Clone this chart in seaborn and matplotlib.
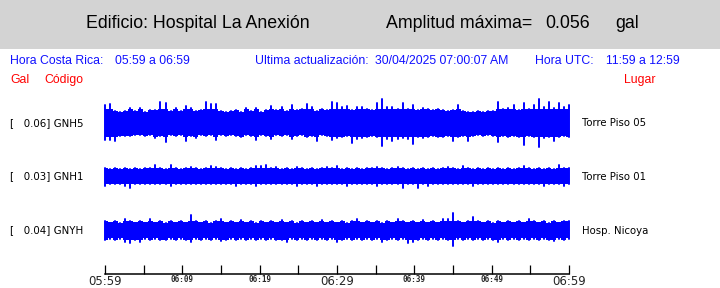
import numpy as np
import pandas as pd
import matplotlib
matplotlib.use("Agg")
import matplotlib.pyplot as plt
from matplotlib.patches import Rectangle
import seaborn as sns

# --- header values ---
building = "Hospital La Anexión"
max_amplitude = 0.056
local_range = "05:59 a 06:59"
utc_range = "11:59 a 12:59"
updated = "30/04/2025 07:00:07 AM"

# --- stations ---
codes = ["GNH5", "GNH1", "GNYH"]
places = ["Torre Piso 05", "Torre Piso 01", "Hosp. Nicoya"]
peaks = [0.06, 0.03, 0.04]
# level (mgal) up to which each trace looks solid
solid_level = [35, 20, 23]

# --- time axis ---
tick_minutes = list(range(0, 61, 5))
tick_labels = ["05:59", "", "06:09", "", "06:19", "", "06:29", "",
               "06:39", "", "06:49", "", "06:59"]
big_labels = ["05:59", "06:29", "06:59"]

# --- trace envelopes (mgal), read across the hour, up / down from the trace centre ---
gnh5_up = [45, 48, 30, 28, 30, 38, 30, 38, 28, 33,
           33, 53, 50, 30, 38, 30, 43, 38, 30, 33,
           53, 48, 48, 30, 28, 30, 33, 28, 38, 30,
           38, 28, 33, 43, 33, 40, 30, 45, 33, 35,
           48, 40, 30, 35, 33, 53, 50, 40, 43, 33,
           40, 40, 35, 33, 50, 60, 40, 40, 35, 50,
           35, 45, 33, 38, 35, 33, 35, 33, 30, 33,
           45, 30, 28, 28, 30, 28, 30, 30, 53, 35,
           38, 45, 33, 50, 35, 45, 60, 40, 53, 38,
           50, 40, 45]
gnh5_down = [43, 43, 45, 33, 33, 33, 30, 30, 33, 30,
             38, 33, 48, 30, 33, 30, 45, 33, 38, 30,
             33, 30, 43, 30, 33, 30, 33, 35, 30, 33,
             43, 30, 33, 40, 30, 33, 30, 40, 33, 30,
             35, 33, 45, 30, 33, 43, 38, 35, 33, 50,
             40, 38, 35, 33, 35, 58, 40, 45, 40, 38,
             40, 53, 35, 38, 35, 33, 35, 35, 33, 45,
             35, 33, 45, 33, 30, 33, 30, 33, 48, 33,
             35, 33, 35, 55, 33, 35, 60, 38, 35, 45,
             35, 33, 35]
gnh1_up = [20, 18, 20, 18, 20, 18, 20, 18, 20, 20,
           28, 20, 18, 28, 20, 18, 20, 23, 20, 18,
           20, 25, 23, 20, 18, 20, 18, 20, 18, 20,
           25, 25, 28, 20, 23, 18, 20, 18, 23, 20,
           18, 20, 18, 20, 23, 20, 25, 18, 20, 18,
           20, 18, 20, 20, 23, 20, 18, 20, 23, 20,
           18, 20, 18, 20, 18, 20, 18, 20, 23, 20,
           18, 25, 20, 18, 20, 18, 20, 18, 20, 18,
           20, 18, 20, 25, 20, 18, 20, 18, 20, 18,
           28, 20, 20]
gnh1_down = [23, 18, 20, 18, 23, 28, 20, 18, 20, 18,
             18, 20, 18, 25, 18, 20, 18, 20, 18, 18,
             20, 18, 20, 18, 18, 20, 23, 18, 20, 18,
             23, 18, 20, 18, 20, 18, 18, 20, 25, 18,
             20, 18, 23, 18, 20, 18, 20, 18, 23, 18,
             20, 18, 20, 18, 23, 18, 20, 18, 20, 28,
             18, 20, 30, 18, 23, 18, 20, 18, 18, 20,
             18, 20, 18, 23, 18, 20, 18, 20, 18, 20,
             18, 20, 18, 20, 18, 20, 18, 23, 18, 20,
             18, 23, 18]
gnyh_up = [23, 20, 23, 18, 30, 23, 20, 23, 20, 28,
           20, 23, 18, 23, 20, 23, 20, 38, 23, 20,
           23, 18, 23, 28, 20, 23, 20, 25, 20, 23,
           18, 23, 20, 23, 20, 25, 20, 23, 18, 23,
           20, 23, 20, 25, 20, 23, 20, 23, 18, 23,
           28, 20, 23, 20, 23, 18, 23, 20, 28, 23,
           20, 23, 20, 25, 20, 23, 20, 30, 28, 43,
           23, 20, 23, 33, 23, 20, 23, 18, 23, 20,
           23, 20, 23, 20, 28, 23, 20, 23, 18, 23,
           20, 23, 23]
gnyh_down = [23, 20, 23, 20, 28, 30, 23, 28, 20, 23,
             20, 23, 23, 20, 23, 20, 23, 28, 20, 23,
             20, 23, 20, 25, 23, 20, 23, 20, 23, 20,
             23, 20, 23, 20, 23, 23, 28, 20, 23, 20,
             23, 20, 23, 20, 23, 20, 28, 23, 20, 23,
             20, 23, 20, 23, 20, 28, 23, 20, 23, 20,
             30, 28, 23, 20, 23, 20, 23, 20, 23, 38,
             20, 23, 20, 23, 20, 23, 20, 23, 28, 20,
             23, 20, 23, 20, 23, 20, 23, 20, 23, 25,
             20, 23, 20]

envelopes = [(gnh5_up, gnh5_down), (gnh1_up, gnh1_down), (gnyh_up, gnyh_down)]

# --- layout (pixels on a 720x288 canvas) ---
W, H = 720, 288
PX_PER_GAL = 400.0
AX_LEFT, AX_RIGHT, AX_BOTTOM, AX_TOP = 105, 569, 274, 96
track_px = [123, 176.5, 230.5]
track_y = [(AX_BOTTOM - p) / PX_PER_GAL for p in track_px]

sns.set_style("white")
plt.rcParams["font.family"] = ["DejaVu Sans"]

fig = plt.figure(figsize=(W / 100, H / 100), dpi=100)
fig.patches.append(Rectangle((0, 1 - 49 / H), 1, 49 / H, transform=fig.transFigure,
                             facecolor="#d3d3d3", edgecolor="none", zorder=0))


def put(x, y, s, **kw):
    fig.text(x / W, 1 - y / H, s, va="center", ha=kw.pop("ha", "left"), **kw)


hdr = dict(family="Liberation Sans", fontsize=12.8, color="black")
put(86, 23, f"Edificio: {building}", **hdr)
put(386, 23, "Amplitud máxima=", **hdr)
put(545, 23, f"{max_amplitude:.3f}", **hdr)
put(615, 23, "gal", **hdr)

blue = dict(family="Liberation Sans", fontsize=8.8, color="#1010ff")
put(10, 61, "Hora Costa Rica:", **blue)
put(115, 61, local_range, **blue)
put(255, 61, "Ultima actualización:", **blue)
put(375, 61, updated, **blue)
put(535, 61, "Hora UTC:", **blue)
put(606, 61, utc_range, **blue)

red = dict(family="Liberation Sans", fontsize=8.8, color="#ff0000")
put(10, 80, "Gal", **red)
put(44, 80, "Código", **red)
put(624, 80, "Lugar", **red)

ax = fig.add_axes([AX_LEFT / W, (H - AX_BOTTOM) / H,
                   (AX_RIGHT - AX_LEFT) / W, (AX_BOTTOM - AX_TOP) / H])
ax.set_facecolor("none")

for k, (up, down) in enumerate(envelopes):
    minutes = np.linspace(0, 60, len(up))
    up = np.array(up) / 1000.0
    down = np.array(down) / 1000.0
    cap = solid_level[k] / 1000.0
    both = np.concatenate([minutes, minutes])
    # solid body of the trace
    body = pd.DataFrame({"minute": both,
                         "gal": np.concatenate([track_y[k] + np.minimum(up, cap),
                                                track_y[k] - np.minimum(down, cap)])})
    sns.lineplot(data=body, x="minute", y="gal", estimator="mean",
                 errorbar=("pi", 100), color="blue", linewidth=0,
                 err_kws=dict(alpha=1, step="mid", linewidth=0), ax=ax)
    # thin peaks reaching the full envelope
    peaks_df = pd.DataFrame({"minute": both,
                             "gal": np.concatenate([track_y[k] + up, track_y[k] - down])})
    sns.lineplot(data=peaks_df, x="minute", y="gal", estimator="mean",
                 errorbar=("pi", 100), err_style="bars", color="blue", linewidth=0,
                 err_kws=dict(elinewidth=1.4, capsize=0), ax=ax)
    put(10, track_px[k], f"[   {peaks[k]:.2f}] {codes[k]}", fontsize=7.4, color="black")
    put(582, track_px[k], places[k], fontsize=7.3, color="black")

for c in ax.collections:
    c.set_clip_on(False)

ax.set_xlim(0, 60)
ax.set_ylim(0, (AX_BOTTOM - AX_TOP) / PX_PER_GAL)
ax.set_yticks([])
ax.set_xlabel("")
ax.set_ylabel("")
for side in ["top", "left", "right"]:
    ax.spines[side].set_visible(False)
ax.spines["bottom"].set_color("black")
ax.spines["bottom"].set_linewidth(1.1)

ax.set_xticks(tick_minutes)
ax.set_xticklabels(tick_labels)
ax.tick_params(axis="x", bottom=True, direction="in", length=6.2, width=0.9,
               color="black", pad=1.0)
for lbl in ax.get_xticklabels():
    if lbl.get_text() in big_labels:
        lbl.set_fontsize(8.5)
        lbl.set_family("DejaVu Sans")
    else:
        lbl.set_fontsize(5.5)
        lbl.set_family("DejaVu Sans Mono")
        lbl.set_fontweight("bold")

fig.savefig("out.png", dpi=100)
